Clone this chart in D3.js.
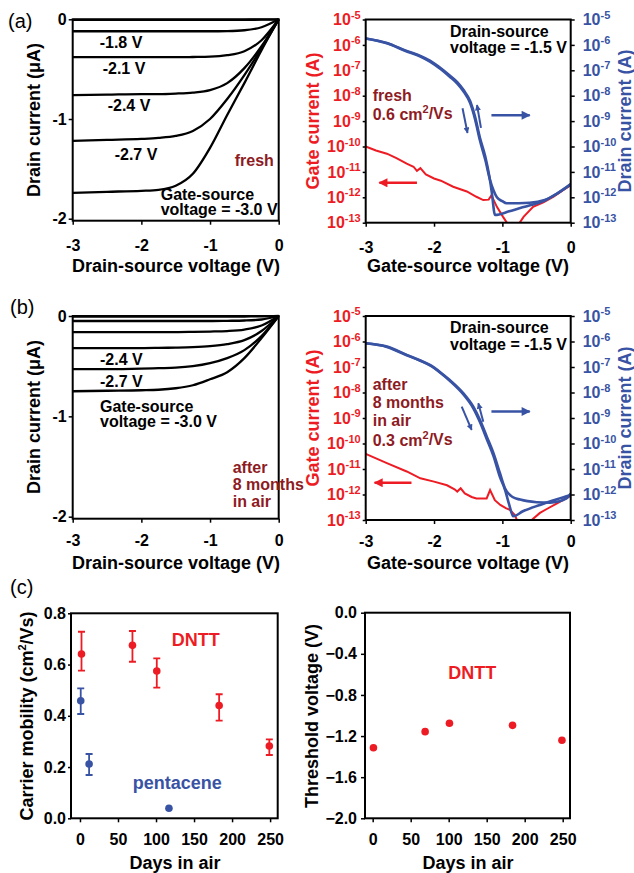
<!DOCTYPE html>
<html>
<head>
<meta charset="utf-8">
<script src="https://cdn.jsdelivr.net/npm/d3@7"></script>
<style>
  body { margin: 0; background: #fff; }
  text { font-family: Arial, "Liberation Sans", sans-serif; font-weight: bold; }
  .tick-label { font-size: 16px; fill: #000; }
  .title { font-size: 18px; fill: #000; }
  .note { font-size: 16px; fill: #000; }
  .panel-label { font-size: 20px; font-weight: normal; }
  .sup { font-size: 11px; }
</style>
</head>
<body>
<script>
// ---- output curves: drain current (uA) vs drain-source voltage ----
var vdsGrid = [-3, -2.5, -2, -1.75, -1.5, -1.25, -1, -0.75, -0.5, -0.25, 0];

// one row per gate-source voltage: -1.5, -1.8, -2.1, -2.4, -2.7, -3.0 V
var freshOutput = [
  [-0.006, -0.006, -0.006, -0.006, -0.006, -0.006, -0.006, -0.006, -0.005, -0.004, 0],
  [-0.12, -0.12, -0.12, -0.12, -0.12, -0.12, -0.12, -0.118, -0.11, -0.08, 0],
  [-0.38, -0.38, -0.38, -0.38, -0.38, -0.378, -0.375, -0.36, -0.32, -0.21, 0],
  [-0.76, -0.755, -0.75, -0.75, -0.745, -0.735, -0.71, -0.64, -0.49, -0.27, 0],
  [-1.22, -1.21, -1.2, -1.19, -1.17, -1.12, -1.0, -0.8, -0.56, -0.29, 0],
  [-1.74, -1.73, -1.72, -1.71, -1.67, -1.55, -1.29, -0.96, -0.64, -0.31, 0]
];
var agedOutput = [
  [-0.006, -0.006, -0.006, -0.006, -0.006, -0.006, -0.006, -0.006, -0.005, -0.004, 0],
  [-0.05, -0.05, -0.05, -0.05, -0.05, -0.05, -0.05, -0.048, -0.045, -0.035, 0],
  [-0.16, -0.16, -0.16, -0.16, -0.16, -0.158, -0.155, -0.15, -0.135, -0.095, 0],
  [-0.32, -0.32, -0.32, -0.318, -0.315, -0.31, -0.3, -0.28, -0.24, -0.15, 0],
  [-0.53, -0.53, -0.525, -0.52, -0.515, -0.5, -0.47, -0.42, -0.34, -0.2, 0],
  [-0.75, -0.745, -0.74, -0.735, -0.72, -0.69, -0.63, -0.56, -0.42, -0.22, 0]
];
var freshCurveLabels = ["-1.8 V", "-2.1 V", "-2.4 V", "-2.7 V"];
var agedCurveLabels = ["-2.4 V", "-2.7 V"];

// ---- transfer curves (A) vs gate-source voltage, fresh ----
var freshVgsUp = [-3, -2.69, -2.4, -2.2, -2.06, -1.9, -1.77, -1.66, -1.57, -1.47, -1.4, -1.33, -1.25, -1.18, -1.13, -1.08, -1.0, -0.94, -0.6, -0.38, -0.2, 0];
var freshIdUp = [1.8e-6, 1.15e-6, 5.5e-7, 3.5e-7, 2.2e-7, 1.1e-7, 5.6e-8, 3e-8, 1.5e-8, 5e-9, 1.2e-9, 1.8e-10, 3e-11, 4.8e-12, 1.9e-12, 1.0e-12, 7e-13, 5.8e-13, 6.1e-13, 7.8e-13, 1.4e-12, 3.3e-12];
var freshVgsDown = [-3, -2.69, -2.4, -2.2, -2.06, -1.9, -1.77, -1.66, -1.57, -1.47, -1.4, -1.33, -1.25, -1.19, -1.156, -1.107, -0.9, -0.74, -0.55, -0.38, -0.2, 0];
var freshIdDown = [1.8e-6, 1.2e-6, 5.8e-7, 3.7e-7, 2.4e-7, 1.2e-7, 6.2e-8, 3.4e-8, 1.7e-8, 6e-9, 1.5e-9, 2.3e-10, 4e-11, 6.5e-12, 1.65e-12, 2e-13, 2.8e-13, 3.8e-13, 5.2e-13, 7.5e-13, 1.4e-12, 3.2e-12];
var freshVgsGate = [-3, -2.85, -2.69, -2.55, -2.4, -2.3, -2.25, -2.2, -2.12, -2.0, -1.9, -1.72, -1.52, -1.38, -1.28, -1.2, -1.16, -1.08, -0.99, -0.91, -0.84, -0.77, -0.69, -0.55, -0.4, -0.25, -0.1, 0];
var freshIg = [1e-10, 7e-11, 5.2e-11, 3.5e-11, 2.1e-11, 1.6e-11, 1.1e-11, 1.4e-11, 8e-12, 5.5e-12, 4.5e-12, 2.6e-12, 1.7e-12, 1.05e-12, 7.8e-13, 8.1e-13, 1.2e-12, 4.2e-13, 1.7e-13, 8e-14, 4e-14, 8e-14, 1.7e-13, 4.2e-13, 6.3e-13, 1.05e-12, 2e-12, 3e-12];

// ---- transfer curves after 8 months in air ----
var agedVgsUp = [-3, -2.69, -2.4, -2.2, -2.06, -1.9, -1.77, -1.57, -1.425, -1.327, -1.229, -1.13, -1.035, -0.96, -0.85, -0.74, -0.5, -0.3, -0.06, 0];
var agedIdUp = [8.5e-7, 6.3e-7, 3e-7, 1.8e-7, 1.2e-7, 6e-8, 3.1e-8, 9.3e-9, 2.8e-9, 8.3e-10, 1.9e-10, 4.2e-11, 6.8e-12, 1.7e-12, 8e-13, 6.3e-13, 5e-13, 4.8e-13, 7e-13, 1.1e-12];
var agedVgsDown = [-3, -2.69, -2.4, -2.2, -2.06, -1.9, -1.77, -1.57, -1.425, -1.327, -1.229, -1.13, -1.035, -0.96, -0.9, -0.84, -0.7, -0.45, -0.2, 0];
var agedIdDown = [8.5e-7, 6.1e-7, 2.9e-7, 1.75e-7, 1.15e-7, 5.7e-8, 2.9e-8, 8.4e-9, 2.4e-9, 6.8e-10, 1.5e-10, 3.2e-11, 4.8e-12, 1.5e-12, 4e-13, 1.4e-13, 2.2e-13, 3.9e-13, 6.5e-13, 9.5e-13];
var agedVgsGate = [-3, -2.69, -2.4, -2.2, -2.0, -1.81, -1.7, -1.66, -1.61, -1.55, -1.45, -1.38, -1.3, -1.23, -1.18, -1.11, -1.03, -0.95, -0.89, -0.82, -0.75, -0.65, -0.57, -0.45, -0.35, -0.2, 0];
var agedIg = [3.9e-11, 1.7e-11, 8e-12, 4.3e-12, 3.2e-12, 2.3e-12, 1.6e-12, 1.3e-12, 1.75e-12, 1.1e-12, 8e-13, 7e-13, 7e-13, 7e-13, 1.5e-12, 6e-13, 3.9e-13, 2.9e-13, 2.5e-13, 1.6e-13, 6e-14, 5e-14, 1e-13, 1.9e-13, 2.7e-13, 4.5e-13, 9e-13];

// ---- (c) mobility and threshold voltage vs days in air ----
var dnttDays = [2, 69, 101, 183, 249];
var dnttMobility = [0.641, 0.675, 0.575, 0.44, 0.282];
var dnttMobLow = [0.576, 0.611, 0.51, 0.381, 0.247];
var dnttMobHigh = [0.728, 0.731, 0.624, 0.484, 0.308];
var pentaceneDays = [1, 12, 117];
var pentaceneMobility = [0.459, 0.212, 0.039];
var pentaceneMobLow = [0.407, 0.169, null];
var pentaceneMobHigh = [0.507, 0.251, null];
var thresholdDays = [1, 69, 101, 184, 249];
var thresholdVoltage = [-1.313, -1.157, -1.076, -1.096, -1.241];

var vTicks = [-3, -2, -1, 0];
var currentTicks = [0, -1, -2];
var logTicks = [1e-5, 1e-6, 1e-7, 1e-8, 1e-9, 1e-10, 1e-11, 1e-12, 1e-13];
var dayTicks = [0, 50, 100, 150, 200, 250];
var mobilityTicks = [0, 0.2, 0.4, 0.6, 0.8];
var vthTicks = [0, -0.4, -0.8, -1.2, -1.6, -2.0];

var red = "#ed1c24", blue = "#3953a4", darkRed = "#8e1b23";

var svg = d3.select("body").append("svg")
    .attr("width", 634)
    .attr("height", 873);

var defs = svg.append("defs");
[["headRed", red, 11, 9], ["headBlue", blue, 11, 9], ["headBlueSmall", blue, 8, 6]].forEach(function (m) {
  defs.append("marker")
      .attr("id", m[0])
      .attr("viewBox", "0 0 10 10")
      .attr("refX", 9).attr("refY", 5)
      .attr("markerWidth", m[2]).attr("markerHeight", m[3])
      .attr("markerUnits", "userSpaceOnUse")
      .attr("orient", "auto")
    .append("path")
      .attr("d", "M0,0L10,5L0,10z")
      .attr("fill", m[1]);
});

function styleAxis(g) {
  g.attr("font-size", null).attr("font-family", null);
  g.select(".domain").remove();
  g.selectAll(".tick line").attr("stroke", "#000").attr("stroke-width", 1.5);
  g.selectAll(".tick text").attr("class", "tick-label");
  return g;
}

function powerLabels(g, color) {
  g.selectAll(".tick text").each(function (d) {
    var t = d3.select(this).text(null).style("fill", color);
    t.append("tspan").text("10");
    t.append("tspan").attr("class", "sup").attr("dy", "-0.6em").text(Math.round(Math.log10(d)));
  });
}

function panel(x0, y0, w, h, id) {
  var g = svg.append("g").attr("transform", "translate(" + x0 + "," + y0 + ")");
  defs.append("clipPath").attr("id", id).append("rect").attr("width", w).attr("height", h);
  g.plot = g.append("g").attr("clip-path", "url(#" + id + ")");
  g.w = w; g.h = h;
  return g;
}

function frame(g) {
  g.append("rect")
      .attr("width", g.w).attr("height", g.h)
      .attr("fill", "none").attr("stroke", "#000").attr("stroke-width", 2);
}

function yTitle(x, y, txt, color) {
  return svg.append("text")
      .attr("class", "title")
      .attr("transform", "translate(" + x + "," + y + ") rotate(-90)")
      .attr("text-anchor", "middle")
      .style("fill", color || "#000")
      .text(txt);
}

function xTitle(x, y, txt) {
  svg.append("text").attr("class", "title")
      .attr("x", x).attr("y", y).attr("text-anchor", "middle").text(txt);
}

function note(g, x, y, txt, color) {
  return g.append("text").attr("class", "note")
      .attr("x", x).attr("y", y).style("fill", color || "#000").text(txt);
}

function mobilityNote(g, x, y, value) {
  var t = note(g, x, y, value + " cm", darkRed);
  t.append("tspan").attr("class", "sup").attr("dy", "-0.6em").text("2");
  t.append("tspan").attr("dy", "0.36em").text("/Vs");
}

// ---------- output characteristics ----------
function outputPanel(y0, h, curves, labels, labelPos, gateNote, stateLines, statePos) {
  var g = panel(72.7, y0, 206, h, "clipOut" + Math.round(y0));
  var x = d3.scaleLinear().domain([-3, 0]).range([0, g.w]);
  var y = d3.scaleLinear().domain([0, -2.02]).range([0, g.h]);

  var line = d3.line()
      .x(function (d, i) { return x(vdsGrid[i]); })
      .y(function (d) { return y(d); })
      .curve(d3.curveMonotoneX);

  g.append("g").selectAll("path")
      .data(curves)
    .enter().append("path")
      .attr("d", line)
      .attr("fill", "none")
      .attr("stroke", "#000")
      .attr("stroke-width", 2.3);

  frame(g);
  styleAxis(g.append("g").call(d3.axisLeft(y).tickValues(currentTicks).tickSize(4).tickPadding(2).tickFormat(String)));
  styleAxis(g.append("g").attr("transform", "translate(0," + g.h + ")")
      .call(d3.axisBottom(x).tickValues(vTicks).tickSize(4).tickPadding(y0 > 100 ? 12 : 15).tickFormat(String)));

  labels.forEach(function (l, i) { note(g, labelPos[i][0], labelPos[i][1], l); });
  note(g, gateNote[0], gateNote[1], "Gate-source");
  note(g, gateNote[0], gateNote[1] + 15, "voltage = -3.0 V");
  stateLines.forEach(function (s, i) { note(g, statePos[0], statePos[1] + i * 17, s, darkRed); });
  return g;
}

outputPanel(19.3, 201.4, freshOutput, freshCurveLabels,
    [[27, 29], [30, 55], [35, 92], [42, 141]], [88, 181], ["fresh"], [162, 147]);
outputPanel(316, 202.7, agedOutput, agedCurveLabels,
    [[27.3, 49], [27.3, 70.7]], [27.3, 96], ["after", "8 months", "in air"], [160, 157]);

// ---------- transfer characteristics ----------
function transferPanel(y0, h, vUp, iUp, vDown, iDown, vGate, iGate, stateLines, mob, arrows) {
  var g = panel(365.7, y0, 205, h, "clipTr" + Math.round(y0));
  var x = d3.scaleLinear().domain([-3, 0]).range([0, g.w]);
  var y = d3.scaleLog().domain([1e-5, 1e-13]).range([0, g.h]);

  var line = function (vs) {
    return d3.line()
        .x(function (d, i) { return x(vs[i]); })
        .y(function (d) { return y(d); })
        .curve(d3.curveMonotoneX);
  };

  g.plot.append("path").datum(iGate)
      .attr("d", line(vGate).curve(d3.curveLinear))
      .attr("fill", "none").attr("stroke", red).attr("stroke-width", 2);
  g.plot.append("path").datum(iDown)
      .attr("d", line(vDown))
      .attr("fill", "none").attr("stroke", blue).attr("stroke-width", 2.6);
  g.plot.append("path").datum(iUp)
      .attr("d", line(vUp))
      .attr("fill", "none").attr("stroke", blue).attr("stroke-width", 2.6);

  frame(g);
  var left = styleAxis(g.append("g").call(d3.axisLeft(y).tickValues(logTicks).tickSize(3).tickPadding(2)));
  powerLabels(left, red);
  var right = styleAxis(g.append("g").attr("transform", "translate(" + g.w + ",0)")
      .call(d3.axisRight(y).tickValues(logTicks).tickSize(4).tickPadding(8)));
  powerLabels(right, blue);
  styleAxis(g.append("g").attr("transform", "translate(0," + g.h + ")")
      .call(d3.axisBottom(x).tickValues(vTicks).tickSize(4).tickPadding(y0 > 100 ? 12 : 15).tickFormat(String)));

  // sweep-direction arrows, in data units
  arrows.forEach(function (a) {
    g.append("line")
        .attr("x1", x(a[0])).attr("y1", y(a[1]))
        .attr("x2", x(a[2])).attr("y2", y(a[3]))
        .attr("stroke", a[4] === "red" ? red : blue)
        .attr("stroke-width", a[5] ? 2 : 2.5)
        .attr("marker-end", "url(#" + (a[4] === "red" ? "headRed" : (a[5] ? "headBlueSmall" : "headBlue")) + ")");
  });

  note(g, 84.3, 17, "Drain-source");
  note(g, 84.3, 33.5, "voltage = -1.5 V");
  stateLines.forEach(function (s, i) { note(g, 7, mob[1] + i * 17.8, s, darkRed); });
  mobilityNote(g, 7, mob[1] + stateLines.length * 18.5, mob[0]);
  return g;
}

transferPanel(19.5, 203.2, freshVgsUp, freshIdUp, freshVgsDown, freshIdDown, freshVgsGate, freshIg,
    ["fresh"], ["0.6", 81.5],
    [[-2.25, 3.7e-12, -2.8, 3.7e-12, "red"],
     [-1.16, 1.7e-9, -0.6, 1.7e-9, "blue"],
     [-1.583, 3.2e-9, -1.51, 3.4e-10, "blue", true],
     [-1.313, 5.4e-10, -1.371, 4.3e-9, "blue", true]]);
transferPanel(316, 204, agedVgsUp, agedIdUp, agedVgsDown, agedIdDown, agedVgsGate, agedIg,
    ["after", "8 months", "in air"], ["0.3", 74],
    [[-2.33, 2.9e-12, -2.87, 2.9e-12, "red"],
     [-1.16, 1.8e-9, -0.6, 1.8e-9, "blue"],
     [-1.595, 2.8e-9, -1.449, 3.4e-10, "blue", true],
     [-1.279, 7.2e-10, -1.352, 3.8e-9, "blue", true]]);

// ---------- (c) mobility ----------
var gm = panel(71, 613.3, 206.7, 205, "clipMob");
var xm = d3.scaleLinear().domain([-11.8, 260]).range([0, gm.w]);
var ym = d3.scaleLinear().domain([0.8, 0]).range([0, gm.h]);

function errorBars(g, days, lo, hi, color) {
  days.forEach(function (d, i) {
    if (lo[i] === null) return;
    var path = d3.path();
    path.moveTo(xm(d), ym(lo[i])); path.lineTo(xm(d), ym(hi[i]));
    path.moveTo(xm(d) - 3.5, ym(lo[i])); path.lineTo(xm(d) + 3.5, ym(lo[i]));
    path.moveTo(xm(d) - 3.5, ym(hi[i])); path.lineTo(xm(d) + 3.5, ym(hi[i]));
    g.append("path").attr("d", path.toString())
        .attr("fill", "none").attr("stroke", color).attr("stroke-width", 1.8);
  });
}
errorBars(gm, dnttDays, dnttMobLow, dnttMobHigh, red);
errorBars(gm, pentaceneDays, pentaceneMobLow, pentaceneMobHigh, blue);

gm.selectAll(".dntt").data(dnttMobility).enter().append("circle")
    .attr("cx", function (d, i) { return xm(dnttDays[i]); })
    .attr("cy", function (d) { return ym(d); })
    .attr("r", 3.8).attr("fill", red);
gm.selectAll(".pent").data(pentaceneMobility).enter().append("circle")
    .attr("cx", function (d, i) { return xm(pentaceneDays[i]); })
    .attr("cy", function (d) { return ym(d); })
    .attr("r", 3.8).attr("fill", blue);

frame(gm);
styleAxis(gm.append("g").call(d3.axisLeft(ym).tickValues(mobilityTicks).tickSize(3).tickPadding(2).tickFormat(d3.format(".1f"))));
styleAxis(gm.append("g").attr("transform", "translate(0," + gm.h + ")")
    .call(d3.axisBottom(xm).tickValues(dayTicks).tickSize(4).tickPadding(11)));
gm.append("text").attr("class", "title").attr("x", 100.7).attr("y", 33).style("fill", red).text("DNTT");
gm.append("text").attr("class", "title").attr("x", 61.7).attr("y", 176).style("fill", blue).text("pentacene");

// ---------- (c) threshold voltage ----------
var gv = panel(365, 612.7, 205, 205.6, "clipVth");
var xv = d3.scaleLinear().domain([-10.1, 259.6]).range([0, gv.w]);
var yv = d3.scaleLinear().domain([0, -2]).range([0, gv.h]);

gv.selectAll(".vth").data(thresholdVoltage).enter().append("circle")
    .attr("cx", function (d, i) { return xv(thresholdDays[i]); })
    .attr("cy", function (d) { return yv(d); })
    .attr("r", 3.8).attr("fill", red);

frame(gv);
styleAxis(gv.append("g").call(d3.axisLeft(yv).tickValues(vthTicks).tickSize(4).tickPadding(4).tickFormat(d3.format(".1f"))));
styleAxis(gv.append("g").attr("transform", "translate(0," + gv.h + ")")
    .call(d3.axisBottom(xv).tickValues(dayTicks).tickSize(4).tickPadding(11)));
gv.append("text").attr("class", "title").attr("x", 83.3).attr("y", 66.7).style("fill", red).text("DNTT");

// ---------- titles ----------
xTitle(176, 272, "Drain-source voltage (V)");
xTitle(468, 272, "Gate-source voltage (V)");
xTitle(176, 569, "Drain-source voltage (V)");
xTitle(468, 569, "Gate-source voltage (V)");
xTitle(175, 869, "Days in air");
xTitle(468, 869, "Days in air");

yTitle(40, 120, "Drain current (\u03bcA)");
yTitle(40, 417, "Drain current (\u03bcA)");
yTitle(319, 121, "Gate current (A)", red);
yTitle(319, 418, "Gate current (A)", red);
yTitle(631, 121, "Drain current (A)", blue);
yTitle(631, 418, "Drain current (A)", blue);
var mobTitle = yTitle(33, 716, "Carrier mobility (cm");
mobTitle.append("tspan").attr("class", "sup").attr("dy", "-0.6em").text("2");
mobTitle.append("tspan").attr("dy", "0.36em").text("/Vs)");
yTitle(318, 716, "Threshold voltage (V)");

svg.append("text").attr("class", "panel-label").attr("x", 8).attr("y", 28).text("(a)");
svg.append("text").attr("class", "panel-label").attr("x", 10).attr("y", 314).text("(b)");
svg.append("text").attr("class", "panel-label").attr("x", 10).attr("y", 594).text("(c)");
</script>
</body>
</html>
